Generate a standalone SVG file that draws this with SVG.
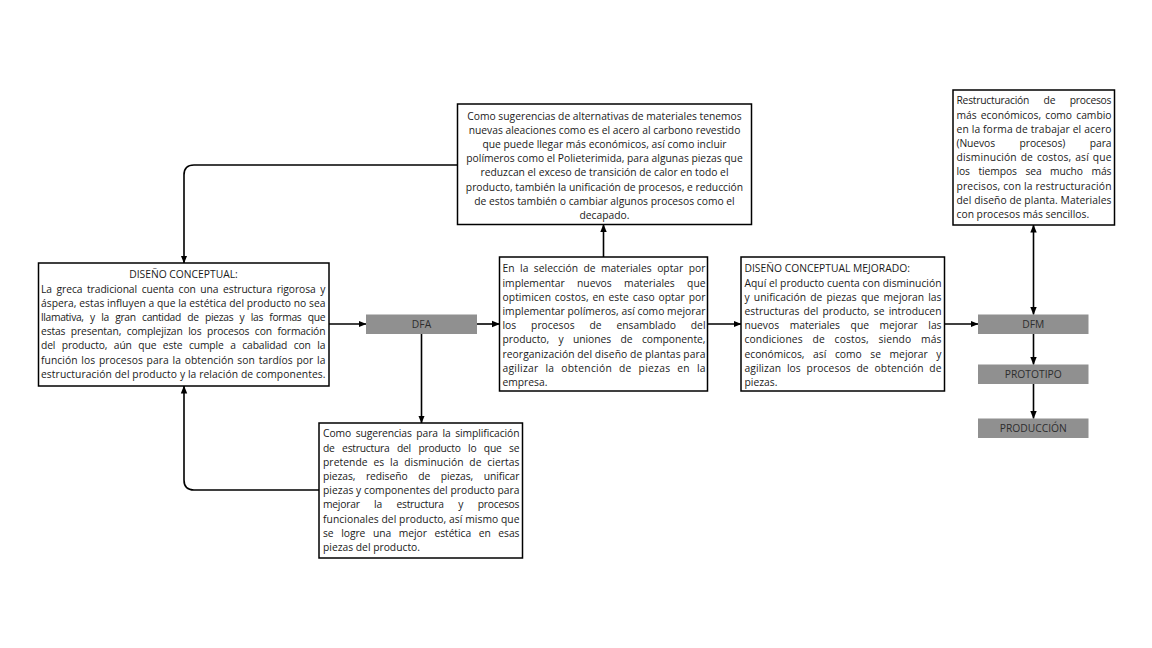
<svg xmlns="http://www.w3.org/2000/svg" width="1152" height="648" viewBox="0 0 1152 648">
<style>
.box{fill:#fff;stroke:#000;stroke-width:1.5}
.gbox{fill:#909090;stroke:none}
text{font-family:"Open Sans","Noto Sans","Liberation Sans",sans-serif;font-size:10.3px;fill:#1a1a1a}
.c{text-anchor:middle}
.g{fill:#2e2e2e;text-anchor:middle}
.ln{fill:none;stroke:#000;stroke-width:1.6}
</style>
<defs>
<marker id="ah" viewBox="0 0 8 8" refX="7.5" refY="4" markerWidth="8" markerHeight="8" markerUnits="userSpaceOnUse" orient="auto-start-reverse">
<path d="M0,0.8 L8,4 L0,7.2 z" fill="#000"/>
</marker>
</defs>
<rect width="1152" height="648" fill="#fff"/>

<g id="connectors">
<path class="ln" d="M329,324 H366" marker-end="url(#ah)"/>
<path class="ln" d="M477,324 H499.5" marker-end="url(#ah)"/>
<path class="ln" d="M421.5,334 V423" marker-end="url(#ah)"/>
<path class="ln" d="M603.5,257 V224.5" marker-end="url(#ah)"/>
<path class="ln" d="M457.5,165 H194 Q184,165 184,175 V263" marker-end="url(#ah)"/>
<path class="ln" d="M319,490 H194 Q184,490 184,480 V386" marker-end="url(#ah)"/>
<path class="ln" d="M707.5,324 H741" marker-end="url(#ah)"/>
<path class="ln" d="M944.5,324 H978" marker-end="url(#ah)"/>
<path class="ln" d="M1033.5,225 V314.5" marker-start="url(#ah)" marker-end="url(#ah)"/>
<path class="ln" d="M1033.5,334 V364.5" marker-end="url(#ah)"/>
<path class="ln" d="M1033.5,384 V418.5" marker-end="url(#ah)"/>
</g>

<g id="alternativas-materiales">
<rect class="box" x="457.5" y="104" width="294" height="120.5"/>
<text class="c" x="604.5" y="119.5">Como sugerencias de alternativas de materiales tenemos</text>
<text class="c" x="604.5" y="133.7">nuevas aleaciones como es el acero al carbono revestido</text>
<text class="c" x="604.5" y="147.9">que puede llegar más económicos, así como incluir</text>
<text class="c" x="604.5" y="162.1">polímeros como el Polieterimida, para algunas piezas que</text>
<text class="c" x="604.5" y="176.3">reduzcan el exceso de transición de calor en todo el</text>
<text class="c" x="604.5" y="190.5">producto, también la unificación de procesos, e reducción</text>
<text class="c" x="604.5" y="204.7">de estos también o cambiar algunos procesos como el</text>
<text class="c" x="604.5" y="218.9">decapado.</text>
</g>

<g id="diseno-conceptual">
<rect class="box" x="38.5" y="263" width="290.5" height="123"/>
<text class="c" x="183.5" y="278.3">DISEÑO CONCEPTUAL:</text>
<text x="41" y="292.5" textLength="284.5" lengthAdjust="spacing" style="word-spacing:2px">La greca tradicional cuenta con una estructura rigorosa y</text>
<text x="41" y="306.7" textLength="284.5" lengthAdjust="spacing">áspera, estas influyen a que la estética del producto no sea</text>
<text x="41" y="320.9" textLength="284.5" lengthAdjust="spacing" style="word-spacing:4px">llamativa, y la gran cantidad de piezas y las formas que</text>
<text x="41" y="335.1" textLength="284.5" lengthAdjust="spacing" style="word-spacing:3px">estas presentan, complejizan los procesos con formación</text>
<text x="41" y="349.3" textLength="284.5" lengthAdjust="spacing" style="word-spacing:4px">del producto, aún que este cumple a cabalidad con la</text>
<text x="41" y="363.5" textLength="284.5" lengthAdjust="spacing" style="word-spacing:1px">función los procesos para la obtención son tardíos por la</text>
<text x="41" y="377.7" textLength="284.5" lengthAdjust="spacing">estructuración del producto y la relación de componentes.</text>
</g>

<g id="dfa">
<rect class="gbox" x="366" y="314.5" width="111" height="19.5"/>
<text class="g" x="421.5" y="327.8">DFA</text>
</g>

<g id="simplificacion">
<rect class="box" x="319" y="423" width="203.5" height="135"/>
<text x="323" y="437.3" textLength="196.5" lengthAdjust="spacing" style="word-spacing:2px">Como sugerencias para la simplificación</text>
<text x="323" y="451.5" textLength="196.5" lengthAdjust="spacing" style="word-spacing:5px">de estructura del producto lo que se</text>
<text x="323" y="465.7" textLength="196.5" lengthAdjust="spacing" style="word-spacing:3px">pretende es la disminución de ciertas</text>
<text x="323" y="479.9" textLength="196.5" lengthAdjust="spacing" style="word-spacing:8px">piezas, rediseño de piezas, unificar</text>
<text x="323" y="494.1" textLength="196.5" lengthAdjust="spacing">piezas y componentes del producto para</text>
<text x="323" y="508.3" textLength="196.5" lengthAdjust="spacing" style="word-spacing:12px">mejorar la estructura y procesos</text>
<text x="323" y="522.5" textLength="196.5" lengthAdjust="spacing">funcionales del producto, así mismo que</text>
<text x="323" y="536.7" textLength="196.5" lengthAdjust="spacing" style="word-spacing:5px">se logre una mejor estética en esas</text>
<text x="323" y="550.9">piezas del producto.</text>
</g>

<g id="seleccion-materiales">
<rect class="box" x="499.5" y="257" width="208" height="134"/>
<text x="502.5" y="272.3" textLength="203" lengthAdjust="spacing" style="word-spacing:2.8px">En la selección de materiales optar por</text>
<text x="502.5" y="286.5" textLength="203" lengthAdjust="spacing" style="word-spacing:9.7px">implementar nuevos materiales que</text>
<text x="502.5" y="300.7" textLength="203" lengthAdjust="spacing" style="word-spacing:1px">optimicen costos, en este caso optar por</text>
<text x="502.5" y="314.9" textLength="203" lengthAdjust="spacing">implementar polímeros, así como mejorar</text>
<text x="502.5" y="329.1" textLength="203" lengthAdjust="spacing" style="word-spacing:12.2px">los procesos de ensamblado del</text>
<text x="502.5" y="343.3" textLength="203" lengthAdjust="spacing" style="word-spacing:6.6px">producto, y uniones de componente,</text>
<text x="502.5" y="357.5" textLength="203" lengthAdjust="spacing">reorganización del diseño de plantas para</text>
<text x="502.5" y="371.7" textLength="203" lengthAdjust="spacing" style="word-spacing:4px">agilizar la obtención de piezas en la</text>
<text x="502.5" y="385.9">empresa.</text>
</g>

<g id="diseno-mejorado">
<rect class="box" x="741" y="257" width="203.5" height="134"/>
<text x="744.5" y="272.3">DISEÑO CONCEPTUAL MEJORADO:</text>
<text x="744.5" y="286.5" textLength="197" lengthAdjust="spacing">Aquí el producto cuenta con disminución</text>
<text x="744.5" y="300.7" textLength="197" lengthAdjust="spacing" style="word-spacing:1.5px">y unificación de piezas que mejoran las</text>
<text x="744.5" y="314.9" textLength="197" lengthAdjust="spacing" style="word-spacing:1.5px">estructuras del producto, se introducen</text>
<text x="744.5" y="329.1" textLength="197" lengthAdjust="spacing" style="word-spacing:8px">nuevos materiales que mejorar las</text>
<text x="744.5" y="343.3" textLength="197" lengthAdjust="spacing" style="word-spacing:7px">condiciones de costos, siendo más</text>
<text x="744.5" y="357.5" textLength="197" lengthAdjust="spacing" style="word-spacing:6px">económicos, así como se mejorar y</text>
<text x="744.5" y="371.7" textLength="197" lengthAdjust="spacing" style="word-spacing:3px">agilizan los procesos de obtención de</text>
<text x="744.5" y="385.9">piezas.</text>
</g>

<g id="restructuracion">
<rect class="box" x="953" y="90" width="161.5" height="135"/>
<text x="956.5" y="104.3" textLength="155" lengthAdjust="spacing" style="word-spacing:12px">Restructuración de procesos</text>
<text x="956.5" y="118.5" textLength="155" lengthAdjust="spacing" style="word-spacing:1.5px">más económicos, como cambio</text>
<text x="956.5" y="132.7" textLength="155" lengthAdjust="spacing">en la forma de trabajar el acero</text>
<text x="956.5" y="146.9" textLength="155" lengthAdjust="spacing" style="word-spacing:22px">(Nuevos procesos) para</text>
<text x="956.5" y="161.1" textLength="155" lengthAdjust="spacing" style="word-spacing:1px">disminución de costos, así que</text>
<text x="956.5" y="175.3" textLength="155" lengthAdjust="spacing" style="word-spacing:6px">los tiempos sea mucho más</text>
<text x="956.5" y="189.5" textLength="155" lengthAdjust="spacing">precisos, con la restructuración</text>
<text x="956.5" y="203.7" textLength="155" lengthAdjust="spacing">del diseño de planta. Materiales</text>
<text x="956.5" y="217.9">con procesos más sencillos.</text>
</g>

<g id="dfm">
<rect class="gbox" x="978" y="314.5" width="110.5" height="19.5"/>
<text class="g" x="1033.3" y="327.8">DFM</text>
</g>

<g id="prototipo">
<rect class="gbox" x="978" y="364.5" width="110.5" height="19.5"/>
<text class="g" x="1033.3" y="377.8">PROTOTIPO</text>
</g>

<g id="produccion">
<rect class="gbox" x="978" y="418.5" width="110.5" height="19.5"/>
<text class="g" x="1033.3" y="431.8">PRODUCCIÓN</text>
</g>
</svg>
